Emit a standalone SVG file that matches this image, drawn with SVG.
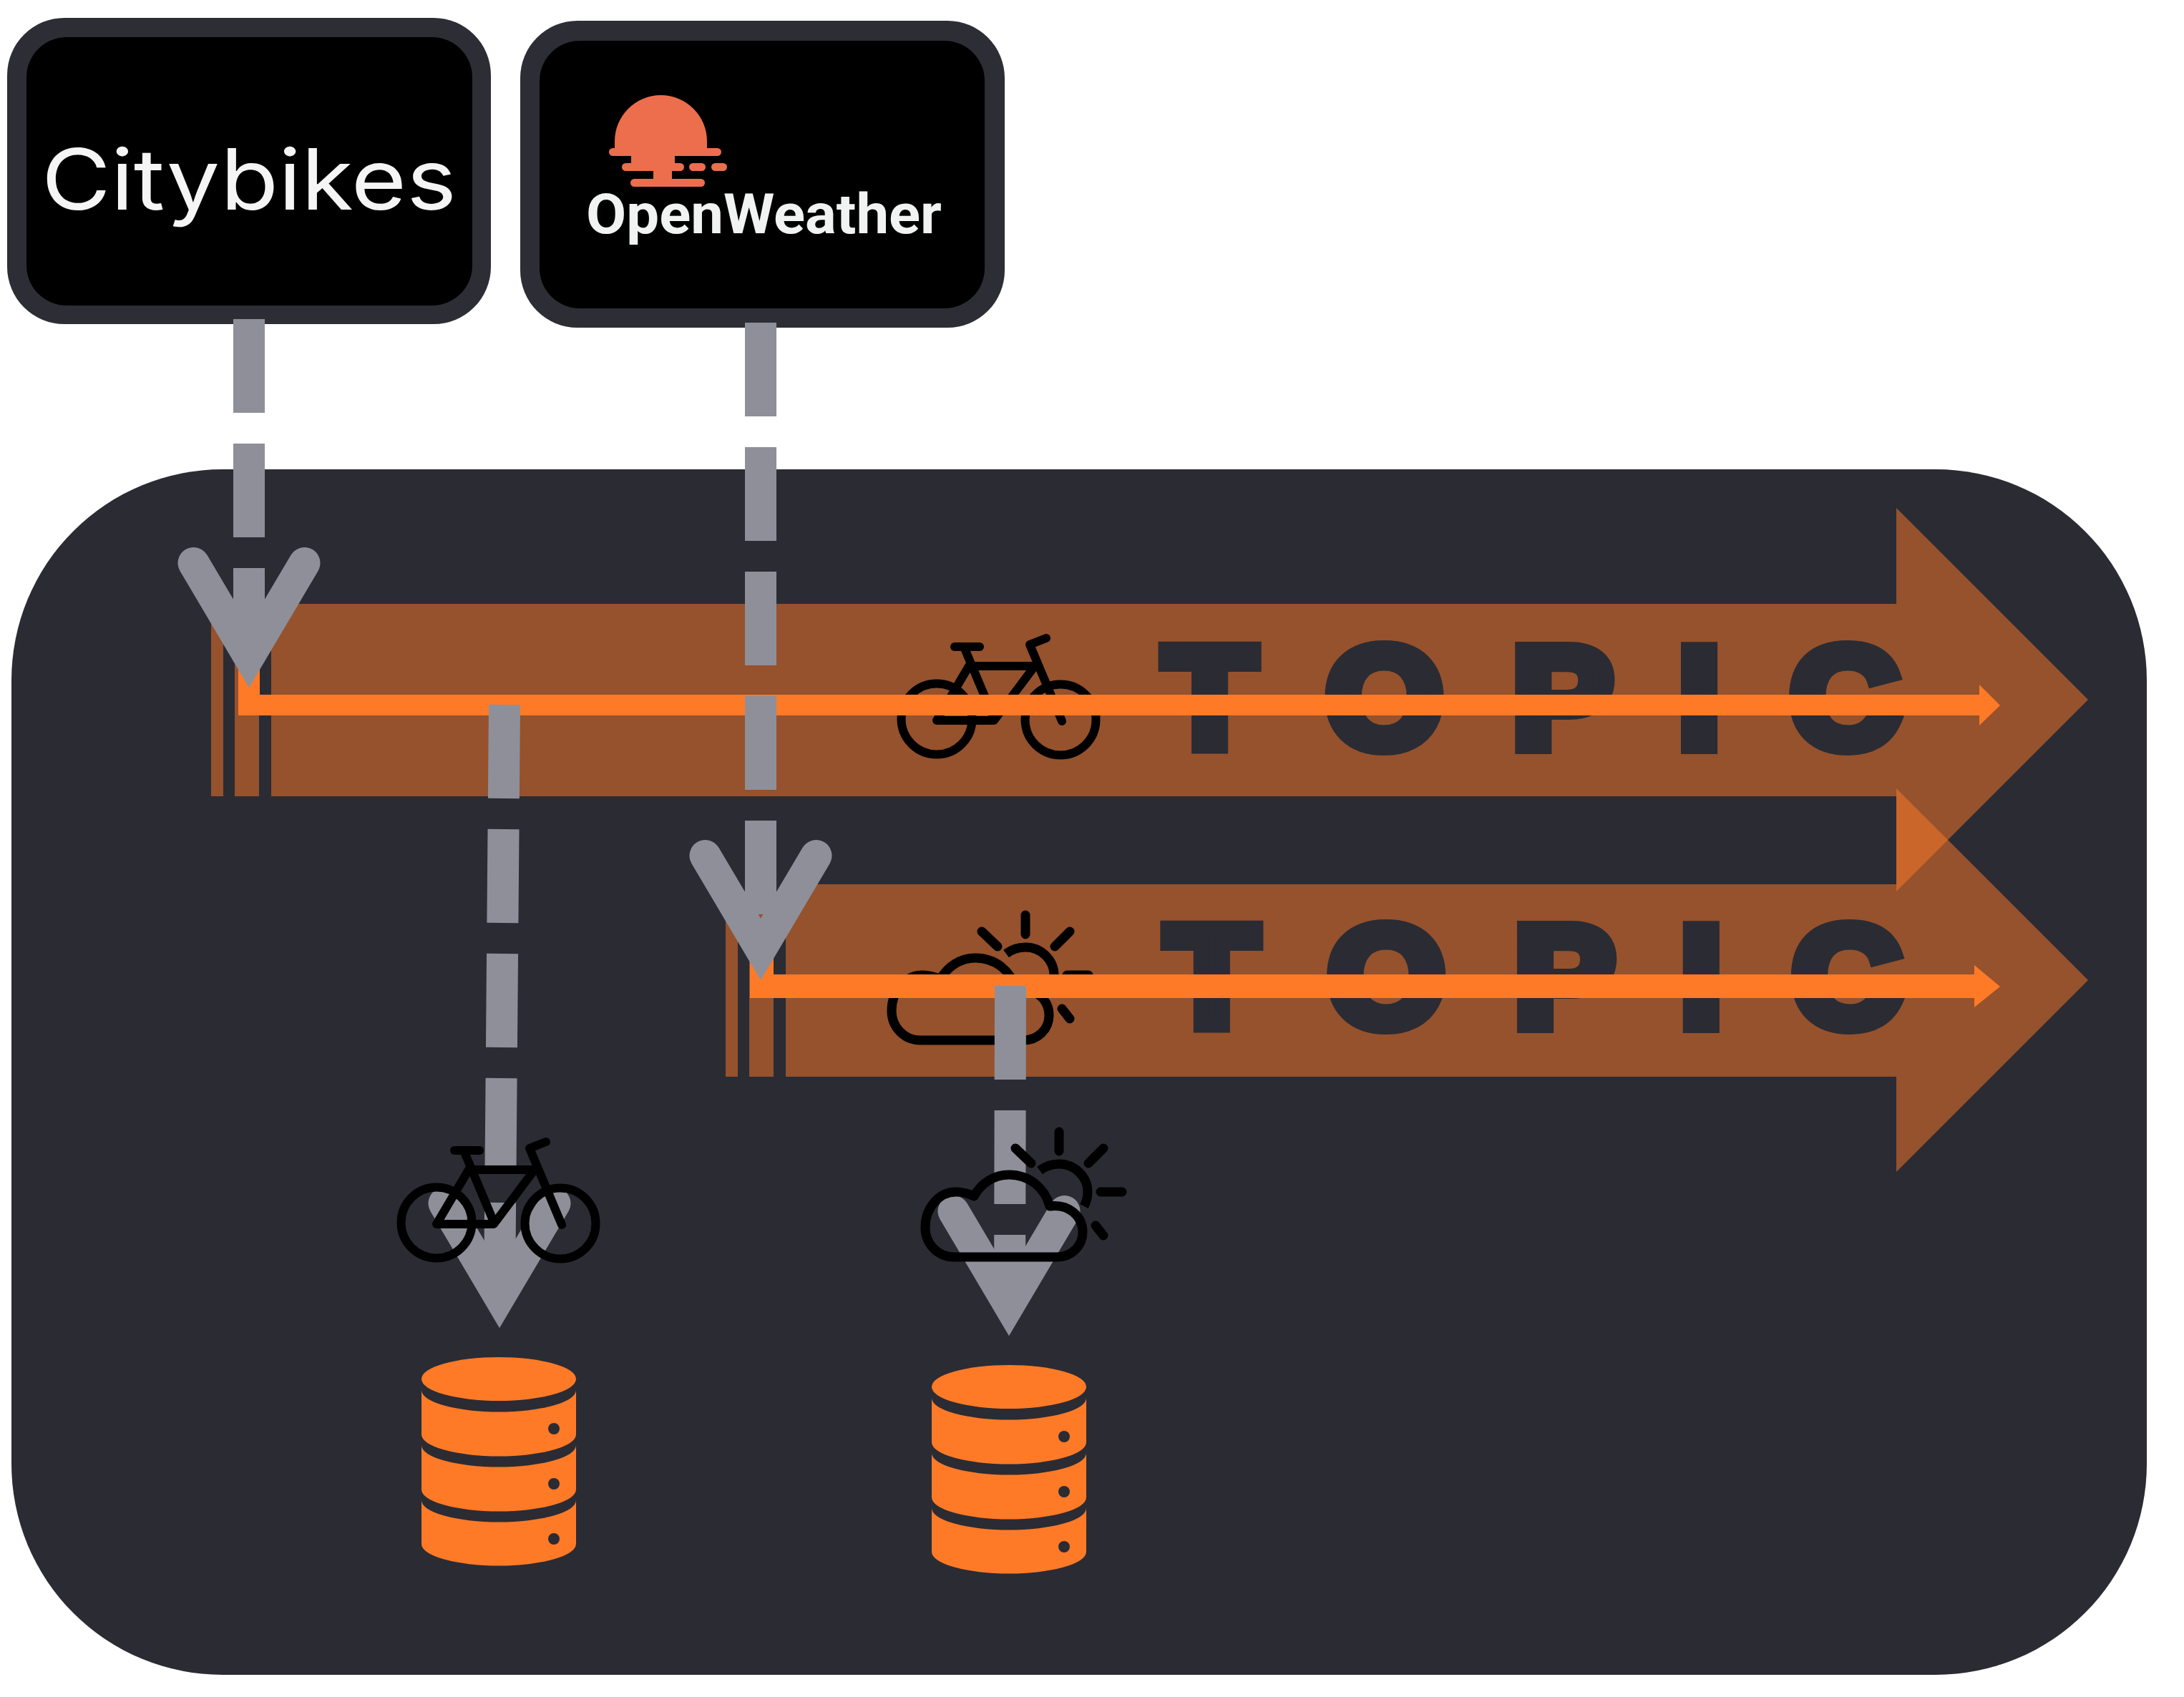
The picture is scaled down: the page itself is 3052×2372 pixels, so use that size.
<svg xmlns="http://www.w3.org/2000/svg" xmlns:xlink="http://www.w3.org/1999/xlink" width="3052" height="2372" viewBox="0 0 3052 2372">
<style>
.panel{fill:#2b2b33}
.outer{fill:#2d2d35}
.inner{fill:#000}
.lane{fill:#ff7a27;fill-opacity:.5}
.flow{fill:#ff7a27}
.topic{font-family:"Liberation Sans",Arial,sans-serif;font-weight:700;font-size:199px;fill:#2b2b33;stroke:#2b2b33;stroke-width:20;stroke-linejoin:miter;text-anchor:middle}
.dash{fill:none;stroke:#8f8f99;stroke-width:44;stroke-dasharray:131 43}
.head{fill:none;stroke:#8f8f99;stroke-width:44;stroke-linecap:round;stroke-linejoin:miter;stroke-miterlimit:4}
.ink{fill:none;stroke:#000;stroke-width:12;stroke-linecap:round;stroke-linejoin:round}
.ink2{fill:none;stroke:#000;stroke-width:13;stroke-linecap:round;stroke-linejoin:round}
.sun{fill:#ec6e4c}
.db{fill:#ff7a27}
.dot{fill:#2b2b33}
</style>
<defs>
<g id="bike">
<circle cx="610" cy="1709" r="49.5" class="ink"/>
<circle cx="783" cy="1710" r="49.5" class="ink"/>
<path d="M610,1711 L655,1635 H747 L690,1711 Z M648,1608 L690,1708 M785,1712 L740,1605 L763,1596" class="ink"/>
<path d="M635,1608 H670" class="ink"/>
</g>
<g id="cloud">
<path d="M1333,1757 C1310,1757 1293,1738 1293,1716 C1293,1688 1312,1666 1336,1666 C1345,1666 1353,1668 1361,1672 C1371,1654 1389,1642 1410,1642 C1438,1642 1460,1660 1467,1686 C1493,1682 1513,1700 1513,1722 C1513,1742 1497,1757 1477,1757 Z" class="ink2"/>
<path d="M1480,1582 V1609 M1419,1605 L1441,1626 M1542,1605 L1521,1626 M1538,1666 H1568 M1531,1713 L1542,1727" class="ink2"/>
<path d="M1453,1636 C1461,1630 1470,1627 1480,1627 C1502,1627 1520,1645 1520,1666 C1520,1673 1518,1680 1515,1686" class="ink2" style="stroke-linecap:butt"/>
</g>
<g id="db">
<ellipse cx="697" cy="1927.5" rx="108" ry="30.5" class="db"/>
<path class="db" d="M589,1943 A108,30.5 0 0 0 805,1943 V2005 A108,30.5 0 0 1 589,2005 Z"/>
<path class="db" d="M589,2020 A108,30.5 0 0 0 805,2020 V2082 A108,30.5 0 0 1 589,2082 Z"/>
<path class="db" d="M589,2097 A108,30.5 0 0 0 805,2097 V2158 A108,30.5 0 0 1 589,2158 Z"/>
<circle cx="774" cy="1997" r="8" class="dot"/>
<circle cx="774" cy="2074" r="8" class="dot"/>
<circle cx="774" cy="2151" r="8" class="dot"/>
</g>
</defs>

<g id="platform"><rect class="panel" x="16" y="656" width="2984" height="1685" rx="295"/></g>

<g id="citybikes">
<rect class="outer" x="10" y="25" width="676" height="428" rx="80"/>
<rect class="inner" x="37" y="52" width="623" height="375" rx="56"/>
<text x="58" y="293" font-family="Inter,'Open Sans','Liberation Sans',sans-serif" font-size="118" font-weight="400" fill="#f5f5f5" textLength="580" lengthAdjust="spacingAndGlyphs">Citybikes</text>
</g>

<g id="openweather">
<rect class="outer" x="727" y="29" width="677" height="429" rx="80"/>
<rect class="inner" x="754" y="57" width="622" height="374" rx="56"/>
<path class="sun" d="M859,209 V197.5 A64.5,64.5 0 0 1 988,197.5 V209 Z"/>
<rect class="sun" x="851" y="207" width="157" height="11" rx="5.5"/>
<rect class="sun" x="882" y="214" width="61" height="18"/>
<rect class="sun" x="869" y="228" width="87" height="11" rx="5.5"/>
<rect class="sun" x="913" y="235" width="26" height="18"/>
<rect class="sun" x="881" y="250" width="104" height="11" rx="5.5"/>
<rect class="sun" x="963" y="228" width="23" height="11" rx="5.5"/>
<rect class="sun" x="994" y="228" width="22" height="11" rx="5.5"/>
<text x="819" y="326" font-family="Roboto,'Liberation Sans',sans-serif" font-size="78" font-weight="700" fill="#f1f2f2" textLength="497" lengthAdjust="spacingAndGlyphs">OpenWeather</text>
</g>

<g id="topic-bikes">
<path class="lane" d="M379,844 H2650 V710 L2918,978 L2650,1246 V1113 H379 Z"/>
<rect class="lane" x="295" y="844" width="17" height="269"/>
<rect class="lane" x="328" y="844" width="34" height="269"/>
<text class="topic" transform="scale(1.05,1)" x="1610 1842.4 2079.5 2261.4 2454.8" y="1044">TOPIC</text>
<use xlink:href="#bike" href="#bike" transform="translate(699,-704)"/>
</g>

<g id="topic-weather">
<path class="lane" d="M1098,1236 H2650 V1102 L2918,1370 L2650,1638 V1505 H1098 Z"/>
<rect class="lane" x="1014" y="1236" width="17" height="269"/>
<rect class="lane" x="1047" y="1236" width="34" height="269"/>
<text class="topic" transform="scale(1.05,1)" x="1612.6 1845 2082.1 2264 2457.4" y="1434">TOPIC</text>
<use xlink:href="#cloud" href="#cloud" transform="translate(-47,-303)"/>
</g>

<g id="db-bikes"><use xlink:href="#db" href="#db"/></g>
<g id="db-weather"><use xlink:href="#db" href="#db" transform="translate(713,11)"/></g>

<g id="connectors">
<path class="flow" d="M333,920 H363 V971 H2766 V957 L2795,986 L2766,1014 V1000 H333 Z"/>
<path class="flow" d="M1048,1320 H1081 V1362 H2759 V1349 L2795,1379 L2759,1408 V1395 H1048 Z"/>
<path class="dash" d="M348,446 V925"/>
<path class="head" d="M270.5,787 L348,918 L425.5,787"/>
<path class="dash" d="M1063,451 V1279"/>
<path class="head" d="M985.5,1196 L1063,1327 L1140.5,1196"/>
<path class="dash" d="M705,985 L698,1813"/>
<path class="head" d="M620.5,1682 L698,1813 L775.5,1682"/>
<path class="dash" d="M1412,1378 L1411,1824"/>
<path class="head" d="M1332.5,1693 L1410,1824 L1487.5,1693"/>
</g>

<g id="icon-bike"><use xlink:href="#bike" href="#bike"/></g>
<g id="icon-weather"><use xlink:href="#cloud" href="#cloud"/></g>
</svg>
